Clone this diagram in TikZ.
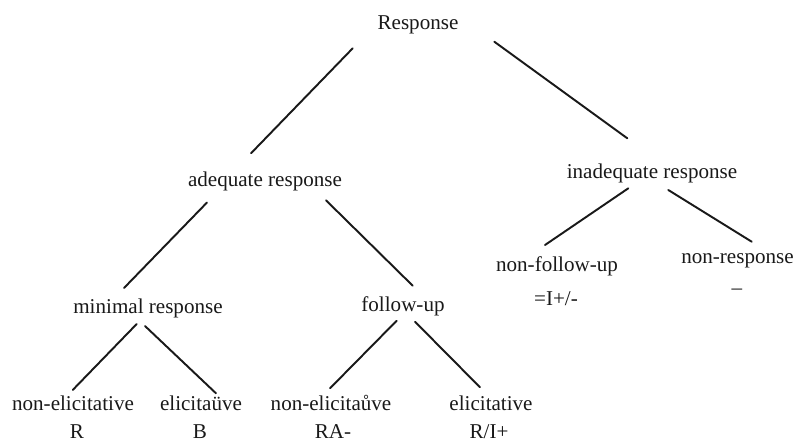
\documentclass[tikz,border=0pt]{standalone}
\usepackage{fontspec}
\setmainfont{Liberation Serif}
\usetikzlibrary{positioning}
\definecolor{ink}{rgb}{0.1, 0.1, 0.1}

\tikzset{
  lbl/.style={anchor=base, inner sep=0pt, text=ink, font=\fontsize{12}{14}\selectfont},
  branch/.style={draw=ink, line width=1.1pt, line cap=round},
}

\begin{document}
\begin{tikzpicture}[x=0.02cm, y=-0.02cm]
    \useasboundingbox (0, 0) rectangle (803, 443);

    % levels of the tree
    \node [lbl] (resp) at (418, 29) {Response};
    \node [lbl] (adeq) at (265, 186.5) {adequate response};
    \node [lbl] (inad) at (652, 178) {inadequate response};
    \node [lbl] (mini) at (148, 313) {minimal response};
    \node [lbl] (foll) at (403, 311.5) {follow-up};
    \node [lbl] (nfu) at (557, 271.7) {non-follow-up};
    \node [lbl] (nres) at (737.5, 263.3) {non-response};
    \node [lbl] (nfucode) at (556, 305) {=I+/-};
    \node [lbl] (nrescode) at (737, 294) {--};

    \node [lbl] (leafa) at (73, 410.7) {non-elicitative};
    \node [lbl] (leafb) at (201, 410.7) {elicitaüve};
    \node [lbl] (leafc) at (331, 410.7) {non-elicitaůve};
    \node [lbl] (leafd) at (491, 410.7) {elicitative};
    \node [lbl] (codea) at (77, 438.5) {R};
    \node [lbl] (codeb) at (200, 438.5) {B};
    \node [lbl] (codec) at (333, 438.5) {RA-};
    \node [lbl] (coded) at (489, 438.5) {R/I+};

    \draw [branch] ([shift={(-65.3, 19.3)}]resp.base) -- ([shift={(-14, -33.2)}]adeq.base);
    \draw [branch] ([shift={(76.3, 12.7)}]resp.base) -- ([shift={(-24.7, -39.7)}]inad.base);

    \draw [branch] ([shift={(-58, 16)}]adeq.base) -- ([shift={(-24, -25)}]mini.base);
    \draw [branch] ([shift={(61, 13.8)}]adeq.base) -- ([shift={(9.7, -25.8)}]foll.base);

    \draw [branch] ([shift={(-23.7, 10.3)}]inad.base) -- ([shift={(-12, -26.7)}]nfu.base);
    \draw [branch] ([shift={(16.3, 12)}]inad.base) -- ([shift={(14.2, -21.6)}]nres.base);

    \draw [branch] ([shift={(-11.3, 11)}]mini.base) -- ([shift={(-0.3, -20.7)}]leafa.base);
    \draw [branch] ([shift={(-3, 13)}]mini.base) -- ([shift={(15, -17.4)}]leafb.base);
    \draw [branch] ([shift={(-6.3, 9.2)}]foll.base) -- ([shift={(-1, -22.4)}]leafc.base); % follow-up pair
    \draw [branch] ([shift={(12, 10.2)}]foll.base) -- ([shift={(-11, -23.4)}]leafd.base);
\end{tikzpicture}
\end{document}
